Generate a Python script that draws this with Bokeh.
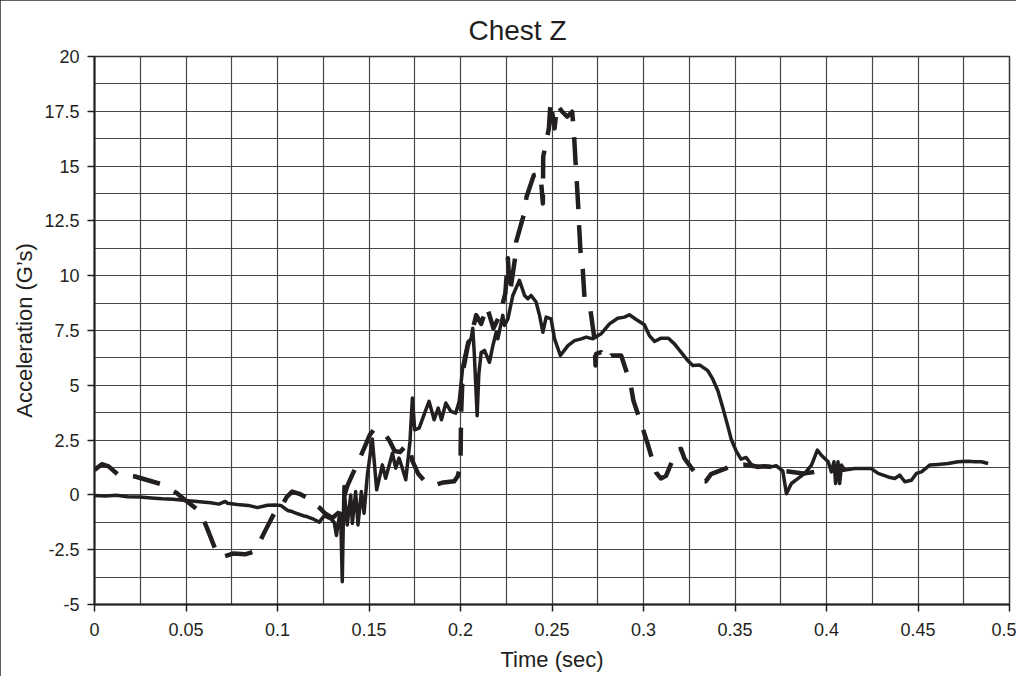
import numpy as np
from bokeh.plotting import figure
from bokeh.models import Range1d, FixedTicker, CustomJSTickFormatter
from bokeh.embed import file_html
from bokeh.resources import INLINE

# ---------------- data ----------------
TITLE = "Chest Z"
X_LABEL = "Time (sec)"
Y_LABEL = "Acceleration (G’s)"

X_TICKS = [0, 0.05, 0.1, 0.15, 0.2, 0.25, 0.3, 0.35, 0.4, 0.45, 0.5]
Y_TICKS = [-5, -2.5, 0, 2.5, 5, 7.5, 10, 12.5, 15, 17.5, 20]

SOLID_T = [0, 0.006, 0.012, 0.018, 0.025, 0.031, 0.037, 0.043, 0.05, 0.056,
           0.0635, 0.068, 0.0714, 0.0726, 0.078, 0.084, 0.089, 0.0945, 0.0987, 0.1018,
           0.1055, 0.108, 0.111, 0.114, 0.1164, 0.12, 0.1228, 0.1255, 0.1292, 0.131,
           0.1322, 0.1336, 0.1345, 0.1354, 0.1363, 0.1381, 0.14, 0.1409, 0.1427, 0.144,
           0.1458, 0.1473, 0.1491, 0.1518, 0.1542, 0.1573, 0.1591, 0.1628, 0.1646, 0.1664,
           0.1682, 0.1701, 0.1724, 0.1737, 0.175, 0.1774, 0.1801, 0.1828, 0.1856, 0.1878,
           0.1896, 0.192, 0.1947, 0.1974, 0.1993, 0.2013, 0.204, 0.2058, 0.2067, 0.2075,
           0.2091, 0.21, 0.2113, 0.2131, 0.2158, 0.2177, 0.2195, 0.2204, 0.2231, 0.224,
           0.2259, 0.2286, 0.2322, 0.235, 0.2368, 0.2386, 0.2413, 0.2432, 0.245, 0.2468,
           0.2495, 0.2514, 0.2546, 0.2587, 0.2623, 0.266, 0.2687, 0.2723, 0.2768, 0.2814,
           0.2859, 0.2896, 0.2923, 0.296, 0.3005, 0.3032, 0.306, 0.3096, 0.3136, 0.3169,
           0.3205, 0.3242, 0.3269, 0.3306, 0.3351, 0.3378, 0.3406, 0.3433, 0.346, 0.3479,
           0.3506, 0.3533, 0.3561, 0.3588, 0.3624, 0.3661, 0.3697, 0.3725, 0.3761, 0.3781,
           0.3808, 0.3845, 0.3881, 0.3918, 0.395, 0.3972, 0.4009, 0.4027, 0.4041, 0.405,
           0.4063, 0.4072, 0.4082, 0.41, 0.4154, 0.4209, 0.4245, 0.4282, 0.4337, 0.4373,
           0.44, 0.4428, 0.4464, 0.4491, 0.4519, 0.4564, 0.461, 0.4664, 0.4719, 0.4774,
           0.481, 0.4847, 0.4883]
SOLID_G = [-0.03, -0.05, -0.02, -0.08, -0.1, -0.14, -0.18, -0.2, -0.26, -0.3,
           -0.36, -0.42, -0.3, -0.38, -0.44, -0.48, -0.58, -0.47, -0.46, -0.48,
           -0.71, -0.76, -0.86, -0.95, -1.0, -1.12, -1.24, -0.96, -1.1, -1.25,
           -1.85, -1.07, -0.85, -3.96, 0.38, -1.37, 0.0, -1.3, 0.15, -1.37,
           0.15, -0.84, 0.91, 2.55, 0.23, 1.37, 0.76, 1.9, 1.22, 1.68,
           1.22, 0.69, 2.44, 4.42, 2.97, 3.05, 3.66, 4.27, 3.43, 3.96,
           3.43, 4.19, 3.81, 3.73, 4.27, 5.9, 6.97, 7.12, 7.6, 6.5,
           3.61, 5.5, 6.5, 6.59, 6.05, 6.81, 7.42, 7.12, 8.19, 7.73,
           8.03, 9.1, 9.79, 9.1, 8.95, 9.1, 8.8, 8.19, 7.42, 8.11,
           8.03, 7.12, 6.36, 6.81, 7.04, 7.12, 7.2, 7.12, 7.35, 7.8,
           8.06, 8.11, 8.22, 8.0, 7.76, 7.27, 7.0, 7.15, 7.15, 6.89,
           6.51, 6.13, 5.9, 5.93, 5.67, 5.29, 4.76, 3.99, 3.16, 2.55,
           2.01, 1.63, 1.71, 1.4, 1.25, 1.33, 1.28, 1.33, 1.1, 0.05,
           0.52, 0.75, 0.98, 1.36, 2.04, 1.81, 1.51, 1.05, 1.51, 0.52,
           1.51, 0.52, 1.36, 1.13, 1.2, 1.2, 1.2, 0.98, 0.82, 0.75,
           0.9, 0.6, 0.67, 0.98, 1.05, 1.36, 1.39, 1.43, 1.51, 1.54,
           1.51, 1.51, 1.43]

DASH_T = [0, 0.004, 0.0077, 0.0131, 0.0222, 0.0377, 0.045, 0.0495, 0.0577, 0.0614,
          0.0674, 0.071, 0.076, 0.0823, 0.0869, 0.0896, 0.0938, 0.0987, 0.1024, 0.105,
          0.108, 0.112, 0.116, 0.12, 0.1228, 0.126, 0.13, 0.1335, 0.136, 0.1381,
          0.1443, 0.1482, 0.1505, 0.1527, 0.1555, 0.1582, 0.161, 0.164, 0.167, 0.1705,
          0.1725, 0.1737, 0.177, 0.1816, 0.186, 0.1907, 0.1965, 0.1985, 0.2, 0.2003,
          0.2012, 0.204, 0.2065, 0.2086, 0.2113, 0.2144, 0.218, 0.2215, 0.2245, 0.2259,
          0.227, 0.2299, 0.2304, 0.2348, 0.2361, 0.2401, 0.2437, 0.245, 0.2452, 0.2483,
          0.2492, 0.2514, 0.2528, 0.2556, 0.2583, 0.261, 0.2619, 0.2628, 0.2634, 0.2643,
          0.2647, 0.2656, 0.2668, 0.2678, 0.2709, 0.2732, 0.2738, 0.2741, 0.2769, 0.2801,
          0.2823, 0.2844, 0.2878, 0.2929, 0.2945, 0.2996, 0.3023, 0.3069, 0.3095, 0.3123,
          0.3183, 0.3205, 0.3224, 0.3315, 0.334, 0.3369, 0.3497, 0.355, 0.362, 0.37,
          0.376, 0.3872, 0.4009, 0.41]
DASH_G = [1.14, 1.4, 1.3, 0.91, 0.84, 0.46, 0.08, -0.23, -0.76, -1.49,
          -2.77, -2.8, -2.67, -2.71, -2.59, -2.26, -1.55, -0.76, -0.5, -0.1,
          0.15, 0.05, -0.12, -0.38, -0.57, -0.85, -1.05, -0.8, -0.2, 0.4,
          1.55, 2.29, 2.75, 2.97, 2.95, 2.82, 2.5, 2.0, 1.95, 2.3,
          2.0, 1.55, 0.95, 0.52, 0.45, 0.57, 0.62, 0.85, 1.4, 3.6,
          5.6, 6.8, 7.5, 8.2, 7.8, 8.6, 7.6, 8.2, 9.2, 10.8,
          9.2, 10.85, 11.54, 12.84, 13.6, 14.59, 14.66, 13.29, 15.43, 16.72,
          17.94, 16.72, 17.79, 17.48, 17.26, 17.48, 16.65, 15.27, 14.5, 13.2,
          12.45, 11.08, 10.3, 8.95, 8.49, 7.12, 5.9, 6.43, 6.51, 6.13,
          6.36, 6.36, 6.36, 5.06, 4.3, 3.03, 2.32, 1.02, 0.75, 0.87,
          2.06, 2.1, 1.66, 0.64, 0.62, 0.95, 1.36, 1.38, 1.3, 1.28,
          1.1, 0.98, 1.13, 1.15]

# ---------------- figure ----------------
FONT = "Liberation Sans"
INK = "#231f20"
GRIDC = "#454545"

p = figure(width=1016, height=676, output_backend="svg", toolbar_location=None,
           x_range=Range1d(0, 0.5), y_range=Range1d(-5, 20),
           min_border_left=94, min_border_right=7, min_border_top=56, min_border_bottom=72,
           background_fill_color="white", border_fill_color="white")
# frame drawn inside the figure box, over the canvas edge
p.styles = {"outline": "2px solid #2b2b2b", "outline-offset": "-2px"}

p.title.text = TITLE
p.title.text_font = FONT
p.title.text_font_size = "28px"
p.title.text_font_style = "normal"
p.title.text_color = INK
p.title.align = "left"
p.title.offset = 374
p.title.standoff = 22

p.outline_line_color = "#333333"
p.outline_line_width = 1.5

# grid every 0.025 s and 1.25 G
p.xgrid.ticker = FixedTicker(ticks=list(np.round(np.arange(0, 0.5001, 0.025), 4)))
p.ygrid.ticker = FixedTicker(ticks=list(np.arange(-5, 20.001, 1.25)))
for g in (p.xgrid, p.ygrid):
    g.grid_line_color = GRIDC
    g.grid_line_width = 1.2
    g.grid_line_alpha = 1.0

fmt = CustomJSTickFormatter(code="return String(Math.round(tick*1000)/1000);")
for ax, ticks in ((p.xaxis[0], X_TICKS), (p.yaxis[0], Y_TICKS)):
    ax.ticker = FixedTicker(ticks=ticks)
    ax.formatter = fmt
    ax.minor_tick_line_color = None
    ax.major_tick_in = 0
    ax.major_tick_out = 7
    ax.major_tick_line_color = INK
    ax.major_tick_line_width = 1.5
    ax.axis_line_color = INK
    ax.axis_line_width = 2
    ax.major_label_text_font = FONT
    ax.major_label_text_font_size = "18px"
    ax.major_label_text_color = INK
    ax.axis_label_text_font = FONT
    ax.axis_label_text_font_size = "22px"
    ax.axis_label_text_font_style = "normal"
    ax.axis_label_text_color = INK

p.xaxis.axis_label = X_LABEL
p.yaxis.axis_label = Y_LABEL
p.xaxis.major_label_standoff = 11
p.xaxis.axis_label_standoff = 8
p.yaxis.major_label_standoff = 8
p.yaxis.axis_label_standoff = 4

p.line(DASH_T, DASH_G, line_color=INK, line_width=4.5, line_dash="28 16",
       line_join="round")
p.line(SOLID_T, SOLID_G, line_color=INK, line_width=3.5, line_join="round")

open("out.html", "w").write(file_html(p, INLINE))
